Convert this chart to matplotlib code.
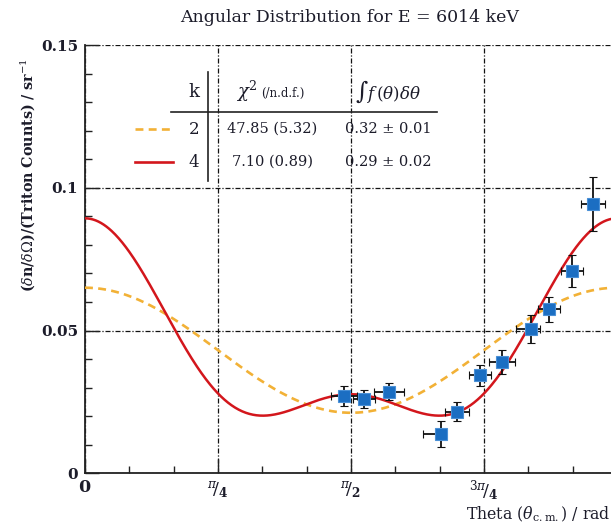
import numpy as np
import matplotlib
matplotlib.use("Agg")
import matplotlib.pyplot as plt
from matplotlib.ticker import AutoMinorLocator, FixedLocator
from numpy.polynomial import legendre

# Measured angular distribution (theta in rad, normalised yield in 1/sr)
theta = [1.531, 1.649, 1.793, 2.102, 2.198, 2.332, 2.461, 2.632, 2.740, 2.878, 3.001]
yield_ = [0.0272, 0.0259, 0.0285, 0.0138, 0.0216, 0.0344, 0.0391, 0.0505, 0.0575, 0.0710, 0.0943]
yield_err = [0.0035, 0.0031, 0.0030, 0.0046, 0.0032, 0.0037, 0.0042, 0.0049, 0.0044, 0.0056, 0.0094]
theta_err_lo = [0.077, 0.065, 0.089, 0.106, 0.071, 0.065, 0.077, 0.089, 0.065, 0.065, 0.071]
theta_err_hi = [0.077, 0.065, 0.089, 0.018, 0.071, 0.065, 0.077, 0.053, 0.065, 0.065, 0.071]

# Legendre-series fit coefficients a_l for P_l(cos theta), l = 0..k
coef_k2 = [0.0358, 0.0, 0.0292]
coef_k4 = [0.03194, 0.0, 0.02944, 0.0, 0.02792]

x_ticks = [0, np.pi / 4, np.pi / 2, 3 * np.pi / 4, np.pi]
x_tick_labels = [r"$\mathbf{0}$", r"${}^{\pi}\!/{}_{\mathbf{4}}$", r"${}^{\pi}\!/{}_{\mathbf{2}}$",
                 r"${}^{3\pi}\!/{}_{\mathbf{4}}$", ""]
y_ticks = [0, 0.05, 0.1, 0.15]
y_tick_labels = ["0", "0.05", "0.1", "0.15"]

fit_rows = [
    ("2", "47.85 (5.32)", "0.32 \u00b1 0.01"),
    ("4", "7.10 (0.89)", "0.29 \u00b1 0.02"),
]

W, H = 611, 528
plt.rcParams["font.family"] = ["DejaVu Serif"]
plt.rcParams["mathtext.fontset"] = "dejavuserif"
txt_col = "#1c1c2a"

fig = plt.figure(figsize=(W / 100, H / 100), dpi=100)
ax = fig.add_axes([85 / W, 1 - 473.3 / H, (617 - 85) / W, (473.3 - 45) / H])

def fx(px):
    return px / W

def fy(py):
    return 1 - py / H

orange = "#f2b136"
red = "#d3161c"

t = np.linspace(0, np.pi, 600)
c = np.cos(t)
ax.plot(t, legendre.legval(c, coef_k2), color=orange, lw=1.9,
        dashes=(3.0, 2.0), zorder=3)
ax.plot(t, legendre.legval(c, coef_k4), color=red, lw=1.8, zorder=3)

ax.errorbar(theta, yield_, yerr=yield_err,
            xerr=[theta_err_lo, theta_err_hi], fmt="s", ms=9,
            mfc="#1b6ec2", mec="#4a90d6", mew=0.8, ecolor="#111111",
            elinewidth=1.3, capsize=3, capthick=1.3, zorder=4)

ax.set_xlim(0, np.pi)
ax.set_ylim(0, 0.15)

ax.xaxis.set_major_locator(FixedLocator(x_ticks))
ax.set_xticklabels(x_tick_labels)
ax.xaxis.set_minor_locator(AutoMinorLocator(3))
ax.set_yticks(y_ticks)
ax.set_yticklabels(y_tick_labels)
ax.yaxis.set_minor_locator(AutoMinorLocator(5))

ax.tick_params(which="both", direction="in", top=False, right=False,
               color="#222222", width=1.0, labelcolor=txt_col)
ax.tick_params(which="major", length=10)
ax.tick_params(which="minor", length=5)
ax.tick_params(axis="y", labelsize=11, pad=5)
ax.tick_params(axis="x", labelsize=12.5, pad=4)
for lab in ax.get_yticklabels():
    lab.set_fontweight("bold")

ax.grid(True, which="major", color="#111111", lw=0.9,
        linestyle=(0, (4, 1.5, 1, 1.5)))
ax.spines["top"].set_visible(False)
ax.spines["right"].set_visible(False)
for s in ("left", "bottom"):
    ax.spines[s].set_linewidth(1.3)
    ax.spines[s].set_color("#222222")

fig.text(fx(350), fy(17), "Angular Distribution for E = 6014 keV",
         ha="center", va="center", fontsize=12.5, color=txt_col)
fig.text(fx(28), fy(58), r"($\delta$n/$\delta\Omega$)/(Triton Counts) / sr$^{-1}$",
         rotation=90, ha="center", va="top", fontsize=10.3,
         fontweight="bold", color=txt_col)
fig.text(fx(611), fy(514), r"Theta ($\theta_{\rm c.m.}$) / rad",
         ha="right", va="center", fontsize=11.3, color=txt_col)

# Fit summary table
fig.add_artist(plt.Line2D([fx(207.5)] * 2, [fy(72), fy(181)], color="#222222", lw=1.2))
fig.add_artist(plt.Line2D([fx(171), fx(437)], [fy(111.5)] * 2, color="#222222", lw=1.2))
fig.text(fx(194), fy(92), "k", ha="center", va="center", fontsize=13, color=txt_col)
fig.text(fx(247), fy(91), r"$\chi^{2}$", ha="center", va="center", fontsize=13, color=txt_col)
fig.text(fx(283), fy(93), "(/n.d.f.)", ha="center", va="center", fontsize=8.5, color=txt_col)
fig.text(fx(388), fy(92), r"$\int f\,(\theta)\delta\theta$", ha="center", va="center",
         fontsize=12, color=txt_col)

row_y = [129, 162]
row_style = [dict(color=orange, dashes=(3.0, 2.0)), dict(color=red)]
for (k, chi, integ), py, st in zip(fit_rows, row_y, row_style):
    fig.add_artist(plt.Line2D([fx(135), fx(173)], [fy(py)] * 2, lw=1.9, **st))
    fig.text(fx(194), fy(py), k, ha="center", va="center", fontsize=12, color=txt_col)
    fig.text(fx(272), fy(py), chi, ha="center", va="center", fontsize=10.5, color=txt_col)
    fig.text(fx(388), fy(py), integ, ha="center", va="center", fontsize=10.5, color=txt_col)

fig.savefig("out.png", dpi=100)
